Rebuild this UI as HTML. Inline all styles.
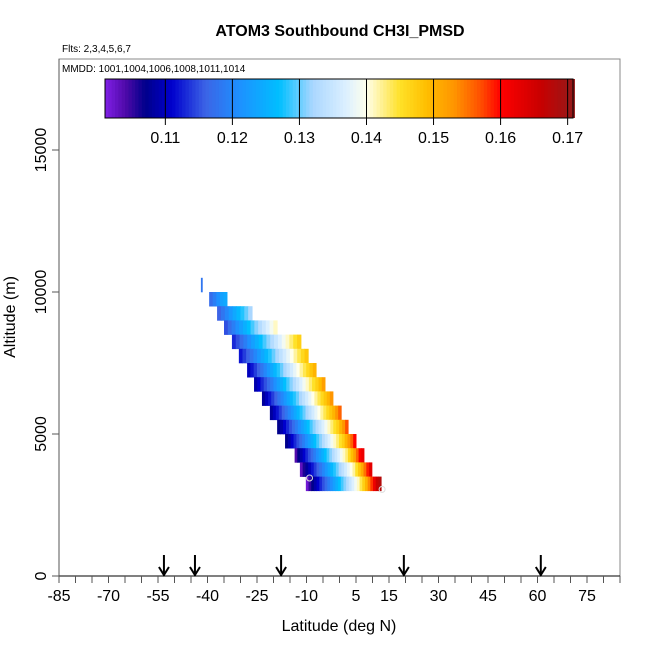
<!DOCTYPE html>
<html><head><meta charset="utf-8"><style>
body{margin:0;background:#fff}
svg{display:block;font-family:"Liberation Sans",Arial,sans-serif}
</style></head><body>
<svg id="chart" width="650" height="650" viewBox="0 0 650 650">
<text x="340" y="36" text-anchor="middle" font-size="16" font-weight="bold">ATOM3 Southbound CH3I_PMSD</text>
<text x="62" y="52" font-size="10">Flts: 2,3,4,5,6,7</text>
<rect x="59" y="59" width="561" height="517" fill="none" stroke="#888" stroke-width="1"/>
<text x="62" y="72" font-size="10">MMDD: 1001,1004,1006,1008,1011,1014</text>
<g id="cells"></g>
<g id="cbar"></g>
<g id="axes"></g>
<text x="339" y="631" text-anchor="middle" font-size="16">Latitude (deg N)</text>
<text transform="translate(15,317) rotate(-90)" text-anchor="middle" font-size="16">Altitude (m)</text>
</svg>
<script>
const rowAlt = [10000,9500,9000,8500,8000,7500,7000,6500,6000,5500,5000,4500,4000,3500,3000];
const rowLatStart = [-42,-39.5,-37.1,-35,-32.6,-30.5,-28,-25.9,-23.5,-21.1,-18.9,-16.5,-13.6,-12,-10.2];
const rowLatEnd = [-41.6,-34.1,-26.5,-18.9,-11.7,-9.5,-7.1,-4.4,-2,0.5,2.6,5,7.4,9.8,12.6];
const rowValues = [
 [0.118],
 [0.117,0.119,0.121,0.123,0.124],
 [0.116,0.118,0.120,0.122,0.124,0.126,0.128,0.130,0.132],
 [0.115,0.117,0.119,0.121,0.123,0.125,0.127,0.129,0.131,0.133,0.135,0.137,0.139,0.141],
 [0.113,0.115,0.117,0.119,0.121,0.123,0.125,0.127,0.129,0.131,0.133,0.135,0.137,0.139,0.141,0.143,0.145,0.147],
 [0.112,0.114,0.116,0.118,0.120,0.122,0.124,0.126,0.128,0.130,0.132,0.134,0.136,0.138,0.140,0.142,0.144,0.146,0.148],
 [0.110,0.112,0.114,0.116,0.118,0.120,0.122,0.124,0.126,0.128,0.130,0.132,0.134,0.136,0.138,0.140,0.142,0.144,0.146,0.148,0.150],
 [0.109,0.111,0.113,0.115,0.117,0.119,0.121,0.123,0.125,0.127,0.129,0.131,0.133,0.135,0.137,0.139,0.141,0.143,0.145,0.147,0.149,0.152],
 [0.108,0.110,0.112,0.114,0.116,0.118,0.120,0.122,0.124,0.126,0.128,0.130,0.132,0.134,0.136,0.138,0.140,0.142,0.144,0.146,0.148,0.150,0.153],
 [0.108,0.110,0.112,0.114,0.116,0.118,0.120,0.122,0.124,0.126,0.128,0.130,0.132,0.134,0.136,0.138,0.140,0.142,0.144,0.146,0.148,0.150,0.153,0.156],
 [0.107,0.109,0.111,0.113,0.115,0.117,0.119,0.121,0.123,0.125,0.127,0.129,0.131,0.133,0.135,0.137,0.139,0.141,0.143,0.145,0.147,0.150,0.153,0.157],
 [0.107,0.109,0.111,0.113,0.115,0.117,0.119,0.121,0.123,0.125,0.127,0.129,0.131,0.133,0.135,0.137,0.139,0.141,0.143,0.145,0.147,0.150,0.153,0.156,0.160],
 [0.104,0.107,0.109,0.111,0.113,0.115,0.117,0.119,0.121,0.123,0.125,0.127,0.129,0.131,0.133,0.135,0.137,0.139,0.141,0.143,0.146,0.149,0.152,0.156,0.160,0.162],
 [0.103,0.106,0.108,0.110,0.112,0.114,0.116,0.118,0.120,0.122,0.124,0.126,0.128,0.130,0.132,0.134,0.136,0.138,0.140,0.142,0.145,0.148,0.151,0.155,0.159,0.163],
 [0.102,0.105,0.107,0.109,0.111,0.113,0.115,0.117,0.119,0.121,0.123,0.125,0.127,0.129,0.131,0.133,0.135,0.137,0.139,0.141,0.144,0.147,0.150,0.154,0.158,0.162,0.166,0.168]
];
const rowStep = 500;
const xTickLabels = [-85,-70,-55,-40,-25,-10,5,15,30,45,60,75];
const yTickLabels = [0,5000,10000,15000];
const cbarTickLabels = [0.11,0.12,0.13,0.14,0.15,0.16,0.17];
const arrowLats = [-53.2,-43.8,-17.7,19.5,61];
const cbarMin = 0.101, cbarMax = 0.1708;

const NS = 'http://www.w3.org/2000/svg';
function X(lat){return 59 + (lat + 85) * 3.3;}
function Y(alt){return 576 - alt * 0.0284;}
function CX(v){return 105 + (v - cbarMin) / (cbarMax - cbarMin) * 468;}
const stops = [[0.101,[128,32,230]],[0.104,[80,10,170]],[0.107,[0,0,139]],[0.111,[0,0,205]],[0.116,[60,100,230]],[0.121,[30,144,255]],[0.127,[0,191,255]],[0.132,[170,215,255]],[0.137,[220,240,255]],[0.140,[255,255,235]],[0.145,[255,225,40]],[0.149,[255,190,0]],[0.153,[255,150,0]],[0.157,[255,80,0]],[0.160,[255,0,0]],[0.166,[200,0,0]],[0.1708,[150,25,25]]];
function color(v){
  if(v<=stops[0][0])return 'rgb('+stops[0][1]+')';
  for(let i=1;i<stops.length;i++){
    if(v<=stops[i][0]){
      const a=stops[i-1],b=stops[i],t=(v-a[0])/(b[0]-a[0]);
      return 'rgb('+a[1].map((c,k)=>Math.round(c+(b[1][k]-c)*t)).join(',')+')';
    }
  }
  return 'rgb('+stops[stops.length-1][1]+')';
}
function el(tag,attrs,parent){const e=document.createElementNS(NS,tag);for(const k in attrs)e.setAttribute(k,attrs[k]);parent.appendChild(e);return e;}

const cells=document.getElementById('cells');
rowAlt.forEach((alt,r)=>{
  const vals=rowValues[r];
  const x0=X(rowLatStart[r]), x1=X(rowLatEnd[r]);
  const w=(x1-x0)/vals.length;
  vals.forEach((v,i)=>{
    const c=el('rect',{x:x0+i*w,y:Y(alt+rowStep),width:w+0.5,height:Y(alt)-Y(alt+rowStep)+0.3,fill:color(v)},cells);
    
    
  });
});
[[-10,3450],[12,3050]].forEach(p=>{
  const c=el('circle',{cx:X(p[0])+3,cy:Y(p[1]),r:3,fill:'none',stroke:'#ddd','stroke-width':1},cells);
  
  
});

const cb=document.getElementById('cbar');
for(let v=cbarMin; v<cbarMax; v+=0.0005){
  el('rect',{x:CX(v),y:79,width:468/((cbarMax-cbarMin)/0.0005)+0.6,height:39,fill:color(v+0.00025)},cb);
}
el('rect',{x:105,y:79,width:468,height:39,fill:'none',stroke:'#000','stroke-width':1},cb);
cbarTickLabels.forEach(v=>{
  el('line',{x1:CX(v),x2:CX(v),y1:79,y2:125,stroke:'#000','stroke-width':1},cb);
  const t=el('text',{x:CX(v),y:143,'text-anchor':'middle','font-size':16},cb);
  t.textContent=v.toFixed(2);
  
  
});

const ax=document.getElementById('axes');
el('line',{x1:59,x2:620,y1:576,y2:576,stroke:'#000','stroke-width':1},ax);
el('line',{x1:59,x2:59,y1:59,y2:576,stroke:'#555','stroke-width':1},ax);
for(let lat=-85;lat<=85;lat+=5){
  el('line',{x1:X(lat),x2:X(lat),y1:576,y2:583,stroke:'#555','stroke-width':1},ax);
}
xTickLabels.forEach(v=>{
  const t=el('text',{x:X(v),y:601,'text-anchor':'middle','font-size':16},ax);
  t.textContent=v;
  
  
});
yTickLabels.forEach(v=>{
  el('line',{x1:52,x2:59,y1:Y(v),y2:Y(v),stroke:'#555','stroke-width':1},ax);
  const t=el('text',{transform:'translate(46,'+Y(v)+') rotate(-90)','text-anchor':'middle','font-size':16},ax);
  t.textContent=v;
  
  
});
arrowLats.forEach(lat=>{
  const g=el('g',{stroke:'#000','stroke-width':2,fill:'none'},ax);
  
  
  const x=X(lat);
  el('line',{x1:x,x2:x,y1:555,y2:575},g);
  el('polyline',{points:(x-5)+',567 '+x+',575 '+(x+5)+',567'},g);
});
</script>
</body></html>
